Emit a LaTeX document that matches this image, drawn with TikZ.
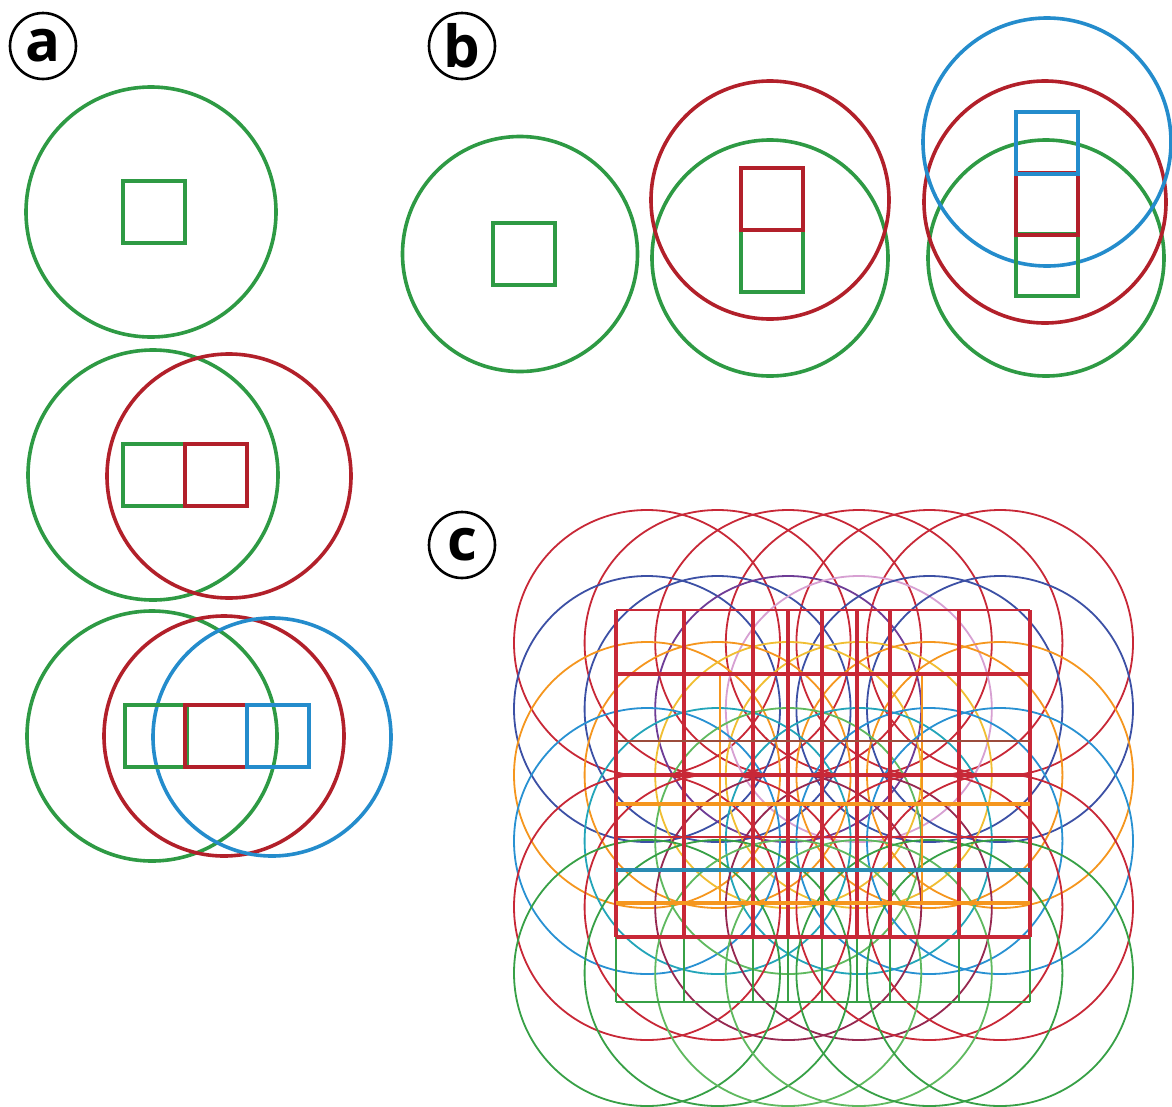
\documentclass[tikz,border=0pt]{standalone}
\usepackage{fontspec}
\setmainfont{Open Sans}
\definecolor{agreen}{RGB}{46,154,68}
\definecolor{ared}{RGB}{178,32,42}
\definecolor{ablue}{RGB}{36,140,204}
\definecolor{cred}{RGB}{200,40,55}
\definecolor{cblue}{RGB}{60,80,165}
\definecolor{cpurple}{RGB}{110,60,150}
\definecolor{corange}{RGB}{245,150,30}
\definecolor{cyellow}{RGB}{240,190,50}
\definecolor{clblue}{RGB}{40,145,210}
\definecolor{cteal}{RGB}{35,165,185}
\definecolor{cgreen}{RGB}{55,160,70}
\definecolor{clgreen}{RGB}{95,185,95}
\definecolor{cmaroon}{RGB}{150,40,80}
\definecolor{cpink}{RGB}{215,160,210}
\begin{document}
\begin{tikzpicture}[x=1pt,y=-1pt,
  lbl/.style={circle, draw=black, line width=2.6pt, minimum size=66pt, inner sep=0pt,
    font=\fontsize{58}{58}\selectfont\bfseries},
  ring/.style={circle, draw=#1, line width=3.6pt, inner sep=0pt},
  tile/.style={rectangle, draw=#1, line width=3.6pt, minimum size=62pt, inner sep=0pt},
  cring/.style={circle, draw=#1, line width=1.8pt, inner sep=0pt, minimum size=266pt},
  gl/.style={draw=#1, line width=3.2pt},
  glt/.style={draw=#1, line width=2.4pt}]
\useasboundingbox (0,0) rectangle (1172,1106);
\fill[white] (0,0) rectangle (1172,1106);

% labels
\node[lbl] (la) at (43,46) {a};
\node[lbl] (lb) at (462,46) {b};
\node[lbl] (lc) at (462,545) {c};

% ---------- panel a ----------
\node[ring=agreen, minimum size=250pt] (a1g) at (151,212) {};
\node[tile=agreen] (a1s) at (154,212) {};

\node[ring=agreen, minimum size=250pt] (a2g) at (153,475) {};
\node[ring=ared, minimum size=244pt] (a2r) at (229,476) {};
\node[tile=agreen] (a2sg) at (154,475) {};
\node[tile=ared] (a2sr) at (216,475) {};

\node[ring=agreen, minimum size=250pt] (a3g) at (152,736) {};
\node[ring=ared, minimum size=240pt] (a3r) at (224,736) {};
\node[ring=ablue, minimum size=238pt] (a3b) at (272,737) {};
\node[tile=agreen] (a3sg) at (156,736) {};
\node[tile=ared] (a3sr) at (216,736) {};
\node[tile=ablue] (a3sb) at (278,736) {};

% ---------- panel b ----------
\node[ring=agreen, minimum size=235pt] (b1g) at (520,254) {};
\node[tile=agreen] (b1s) at (524,254) {};

\node[ring=agreen, minimum size=236pt] (b2g) at (770,258) {};
\node[ring=ared, minimum size=238pt] (b2r) at (770,200) {};
\node[tile=agreen] (b2sg) at (772,261) {};
\node[tile=ared] (b2sr) at (772,199) {};

\node[ring=agreen, minimum size=236pt] (b3g) at (1046,258) {};
\node[ring=ared, minimum size=242pt] (b3r) at (1045,202) {};
\node[ring=ablue, minimum size=248pt] (b3b) at (1047,142) {};
\node[tile=agreen] (b3sg) at (1047,265) {};
\node[tile=ared] (b3sr) at (1047,204) {};
\node[tile=ablue] (b3sb) at (1047,143) {};

% ---------- panel c : circles ----------
\foreach \i/\col in {0/cred,1/cred,2/cred,3/cred,4/cred,5/cred}
  \node[cring=\col] (c-\i-0) at ({647+70.6*\i},643) {};
\foreach \i/\col in {0/cblue,1/cblue,2/cpurple,3/cpink,4/cblue,5/cblue}
  \node[cring=\col] (c-\i-1) at ({647+70.6*\i},709) {};
\foreach \i/\col in {0/corange,1/corange,2/cyellow,3/cyellow,4/corange,5/corange}
  \node[cring=\col] (c-\i-2) at ({647+70.6*\i},775) {};
\foreach \i/\col in {0/clblue,1/cteal,2/clgreen,3/cteal,4/clblue,5/clblue}
  \node[cring=\col] (c-\i-3) at ({647+70.6*\i},841) {};
\foreach \i/\col in {0/cred,1/cred,2/cmaroon,3/cmaroon,4/cred,5/cred}
  \node[cring=\col] (c-\i-4) at ({647+70.6*\i},907) {};
\foreach \i/\col in {0/cgreen,1/cgreen,2/clgreen,3/clgreen,4/cgreen,5/cgreen}
  \node[cring=\col] (c-\i-5) at ({647+70.6*\i},973) {};

% ---------- panel c : grid ----------
% verticals
\foreach \x in {616,684,753,788,822,857,890,959,1030} {
  \draw[gl=cred] (\x,610) -- (\x,937);
  \draw[glt=cgreen] (\x,937) -- (\x,1002);
}
\draw[glt=corange] (720,674) -- (720,903);
\draw[glt=corange] (922,674) -- (922,903);
% horizontals
\draw[glt=cred] (616,610) -- (1030,610);
\draw[gl=cred, line width=3.6pt] (616,674) -- (1030,674);
\draw[glt=cred!70!cgreen] (616,741) -- (1030,741);
\draw[gl=cred, line width=3.6pt] (616,775) -- (1030,775);
\draw[gl=corange] (616,804) -- (1030,804);
\draw[glt=cred] (616,837) -- (1030,837);
\draw[gl=cteal!70!cblue, line width=3.6pt] (616,870) -- (1030,870);
\draw[gl=corange] (616,903) -- (1030,903);
\draw[gl=cred, line width=3.6pt] (616,937) -- (1030,937);
\draw[glt=cgreen] (616,1002) -- (1030,1002);
\end{tikzpicture}
\end{document}
